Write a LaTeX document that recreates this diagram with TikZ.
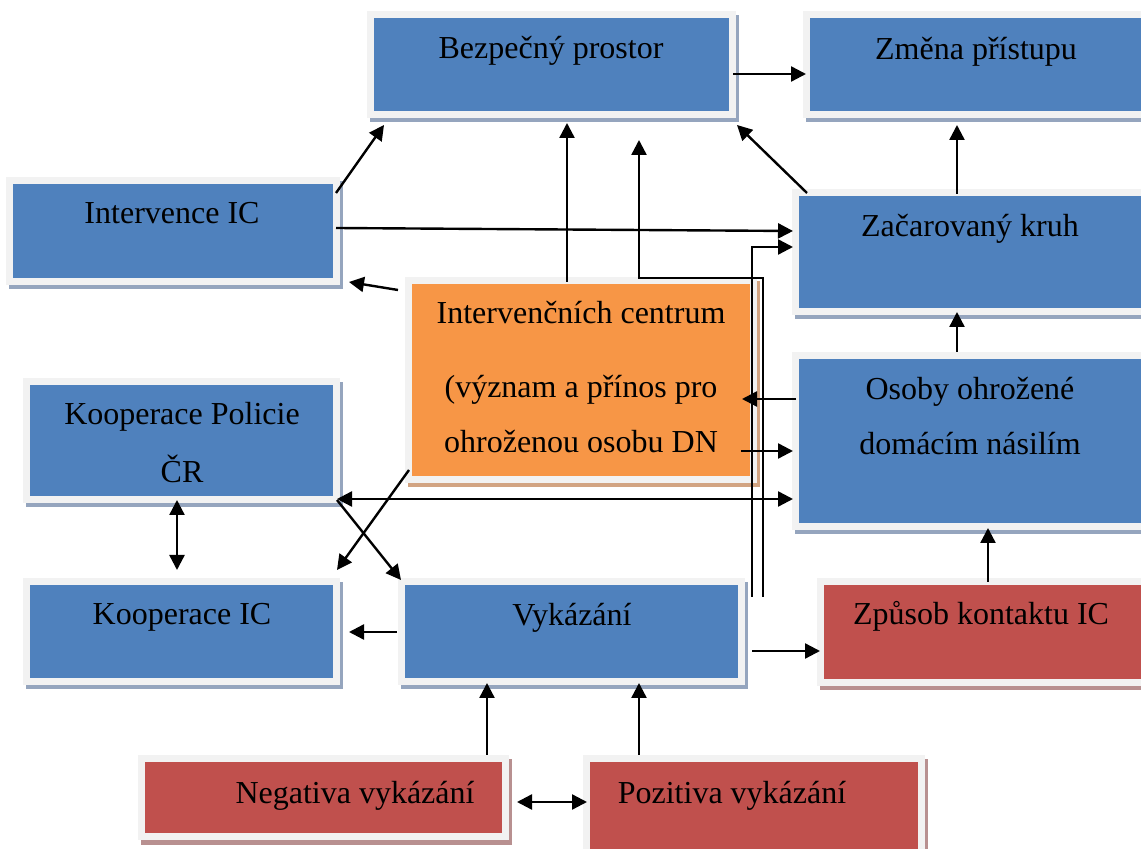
\documentclass[tikz,border=0pt]{standalone}
\usepackage{fontspec}
\setmainfont{Liberation Serif}
\usetikzlibrary{arrows.meta,shadows,fit}
\definecolor{bxblue}{HTML}{4F81BD}
\definecolor{bxorange}{HTML}{F79646}
\definecolor{bxred}{HTML}{C0504D}
\definecolor{bxframe}{HTML}{F2F2F2}
\definecolor{shblue}{HTML}{95A5BE}
\definecolor{shorange}{HTML}{D2A482}
\definecolor{shred}{HTML}{B89090}
\tikzset{
  box/.style 2 args={fill=bxframe, draw=none, inner sep=0pt, outer sep=0pt,
    drop shadow={shadow xshift=1.5pt, shadow yshift=-2.25pt, fill=#2, opacity=1},
    path picture={\fill[#1] ([shift={(3.6pt,-3.6pt)}]path picture bounding box.north west)
      rectangle ([shift={(-3.6pt,3.6pt)}]path picture bounding box.south east);}},
  bluebox/.style={box={bxblue}{shblue}},
  orangebox/.style={box={bxorange}{shorange}},
  redbox/.style={box={bxred}{shred}},
  lbl/.style={anchor=base, inner sep=0pt, text=black},
  arr/.style={-{Triangle[length=7.5pt,width=7.5pt]}, line width=1.2pt, line join=miter},
  darr/.style={{Triangle[length=7.5pt,width=7.5pt]}-{Triangle[length=7.5pt,width=7.5pt]}, line width=1.2pt},
}
\begin{document}
\begin{tikzpicture}[x=0.5pt,y=-0.5pt,font=\fontsize{16pt}{19pt}\selectfont]
\useasboundingbox (0,0) rectangle (1141,849);
\clip (0,0) rectangle (1141,849);

% boxes
\node[bluebox, fit={(367,11) (736,118)}] (bp) {};
\node[bluebox, fit={(803,11) (1170,118)}] (zp) {};
\node[bluebox, fit={(6,177) (340,285)}] (ivc) {};
\node[bluebox, fit={(792,189) (1170,315)}] (zk) {};
\node[orangebox, fit={(405,277) (757,483)}] (ic) {};
\node[bluebox, fit={(792,352) (1170,530)}] (oo) {};
\node[bluebox, fit={(23,378) (340,503)}] (kp) {};
\node[bluebox, fit={(23,578) (340,685)}] (kic) {};
\node[bluebox, fit={(398,578) (745,685)}] (vy) {};
\node[redbox, fit={(817,578) (1170,686)}] (zpk) {};
\node[redbox, fit={(138,755) (509,840)}] (neg) {};
\node[redbox, fit={(583,755) (925,870)}] (poz) {};

% texts
\node[lbl] (tbp) at (551,59) {Bezpečný prostor};
\node[lbl] (tzp) at (976,60) {Změna přístupu};
\node[lbl] (tivc) at (172,224) {Intervence IC};
\node[lbl] (tzk) at (970,237) {Začarovaný kruh};
\node[lbl] (tic1) at (581,324) {Intervenčních centrum};
\node[lbl] (tic2) at (581,398) {(význam a přínos pro};
\node[lbl] (tic3) at (581,453) {ohroženou osobu DN};
\node[lbl] (too1) at (970,400) {Osoby ohrožené};
\node[lbl] (too2) at (970,455) {domácím násilím};
\node[lbl] (tkp1) at (182,425) {Kooperace Policie};
\node[lbl] (tkp2) at (182,483) {ČR};
\node[lbl] (tkic) at (182,625) {Kooperace IC};
\node[lbl] (tvy) at (572,626) {Vykázání};
\node[lbl] (tzpk) at (981,625) {Způsob kontaktu IC};
\node[lbl] (tneg) at (355,803) {Negativa vykázání};
\node[lbl] (tpoz) at (732,803) {Pozitiva vykázání};

% connector end points
\coordinate (bpE) at (733,74);   \coordinate (zpW) at (806,74);
\coordinate (ivcNE) at (336,193); \coordinate (bpSW) at (384,125);
\coordinate (icN) at (567,282);  \coordinate (bpS) at (567,123);
\coordinate (vyA) at (763,597); \coordinate (kA1) at (763,278); \coordinate (kA2) at (639,278); \coordinate (bpS2) at (639,140);
\coordinate (vyB) at (752,597); \coordinate (kB1) at (752,247); \coordinate (zkW2) at (793,247);
\coordinate (ivcE) at (336,228); \coordinate (zkW1) at (793,231);
\coordinate (zkNW) at (807,193); \coordinate (bpSE) at (737,125);
\coordinate (zkN) at (957,194);  \coordinate (zpS) at (957,125);
\coordinate (ooN) at (957,352);  \coordinate (zkS) at (957,312);
\coordinate (icW) at (398,290);  \coordinate (ivcSE) at (349,282);
\coordinate (ooW1) at (796,399); \coordinate (icE1) at (742,399);
\coordinate (icE2) at (741,451); \coordinate (ooW2) at (793,451);
\coordinate (kpE) at (337,499);  \coordinate (ooW3) at (793,499);
\coordinate (icSW) at (409,470); \coordinate (kicNE) at (337,570);
\coordinate (kpSE) at (337,500); \coordinate (vyNW) at (401,580);
\coordinate (kpS) at (177,500);  \coordinate (kicN) at (177,570);
\coordinate (vyW) at (397,632);  \coordinate (kicE) at (349,632);
\coordinate (vyE) at (752,651);  \coordinate (zpkW) at (820,651);
\coordinate (zpkN) at (988,582); \coordinate (ooS) at (988,528);
\coordinate (negN) at (487,755); \coordinate (vyS1) at (487,683);
\coordinate (pozN) at (639,755); \coordinate (vyS2) at (639,683);
\coordinate (negE) at (517,802); \coordinate (pozW) at (587,802);

% connectors
\draw[arr] (bpE) -- (zpW);
\draw[arr] (ivcNE) -- (bpSW);
\draw[arr] (icN) -- (bpS);
\draw[arr] (vyA) -- (kA1) -- (kA2) -- (bpS2);
\draw[arr] (vyB) -- (kB1) -- (zkW2);
\draw[arr] (ivcE) -- (zkW1);
\draw[arr] (zkNW) -- (bpSE);
\draw[arr] (zkN) -- (zpS);
\draw[arr] (ooN) -- (zkS);
\draw[arr] (icW) -- (ivcSE);
\draw[arr] (ooW1) -- (icE1);
\draw[arr] (icE2) -- (ooW2);
\draw[darr] (kpE) -- (ooW3);
\draw[arr] (icSW) -- (kicNE);
\draw[arr] (kpSE) -- (vyNW);
\draw[darr] (kpS) -- (kicN);
\draw[arr] (vyW) -- (kicE);
\draw[arr] (vyE) -- (zpkW);
\draw[arr] (zpkN) -- (ooS);
\draw[arr] (negN) -- (vyS1);
\draw[arr] (pozN) -- (vyS2);
\draw[darr] (negE) -- (pozW);
\end{tikzpicture}
\end{document}
